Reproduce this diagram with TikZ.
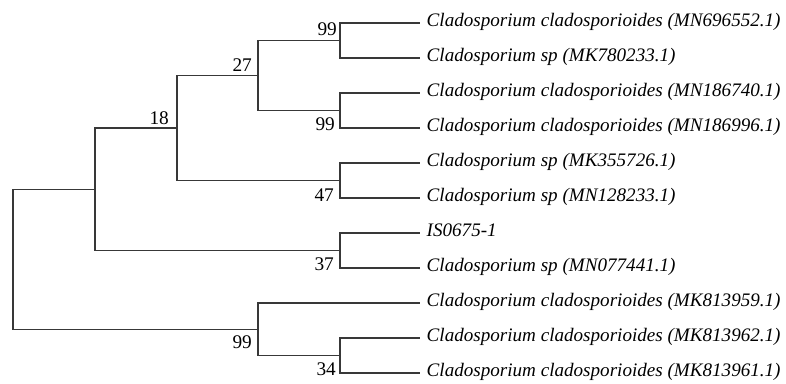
\documentclass[tikz,border=0pt]{standalone}
\usepackage{fontspec}
\setmainfont{Liberation Serif}
\begin{document}
\begin{tikzpicture}[x=1pt,y=-1pt,
  branch/.style={draw=black!78,line width=1.1pt},
  leaf/.style={anchor=west,inner xsep=6.5pt,inner ysep=0pt,font=\fontsize{19.1}{21}\selectfont\itshape,
    text height=0.9em,text depth=0.2em},
  boot/.style={anchor=base east,inner sep=0pt,font=\fontsize{19.3}{21}\selectfont}]
\useasboundingbox (0,0) rectangle (786,383);

% taxa
\node[leaf] (l1)  at (420,23)  {Cladosporium cladosporioides (MN696552.1)};
\node[leaf] (l2)  at (420,58)  {Cladosporium sp (MK780233.1)};
\node[leaf] (l3)  at (420,93)  {Cladosporium cladosporioides (MN186740.1)};
\node[leaf] (l4)  at (420,128) {Cladosporium cladosporioides (MN186996.1)};
\node[leaf] (l5)  at (420,163) {Cladosporium sp (MK355726.1)};
\node[leaf] (l6)  at (420,198) {Cladosporium sp (MN128233.1)};
\node[leaf] (l7)  at (420,233) {IS0675-1};
\node[leaf] (l8)  at (420,268) {Cladosporium sp (MN077441.1)};
\node[leaf] (l9)  at (420,303) {Cladosporium cladosporioides (MK813959.1)};
\node[leaf] (l10) at (420,338) {Cladosporium cladosporioides (MK813962.1)};
\node[leaf] (l11) at (420,373) {Cladosporium cladosporioides (MK813961.1)};

% internal nodes
\coordinate (nD) at (340,40.5);
\coordinate (nE) at (340,110.5);
\coordinate (nF) at (340,180.5);
\coordinate (nG) at (340,250.5);
\coordinate (nI) at (340,355.5);
\coordinate (nC) at (258,75.5);
\coordinate (nH) at (258,329.25);
\coordinate (nB) at (177,128);
\coordinate (nA) at (95,189.25);
\coordinate (root) at (13,259.25);

% branches
\draw[branch] (nD) |- (l1.west) (nD) |- (l2.west);
\draw[branch] (nE) |- (l3.west) (nE) |- (l4.west);
\draw[branch] (nF) |- (l5.west) (nF) |- (l6.west);
\draw[branch] (nG) |- (l7.west) (nG) |- (l8.west);
\draw[branch] (nI) |- (l10.west) (nI) |- (l11.west);
\draw[branch] (nH) |- (l9.west) (nH) |- (nI);
\draw[branch] (nC) |- (nD) (nC) |- (nE);
\draw[branch] (nB) |- (nC) (nB) |- (nF);
\draw[branch] (nA) |- (nB) (nA) |- (nG);
\draw[branch] (root) |- (nA) (root) |- (nH);

% bootstrap values
\node[boot] (bD) at (337,35)    {99};
\node[boot] (bC) at (252,71.7)  {27};
\node[boot] (bB) at (169,124.3) {18};
\node[boot] (bE) at (335,130.7) {99};
\node[boot] (bF) at (334,201.3) {47};
\node[boot] (bG) at (334,270)   {37};
\node[boot] (bH) at (252,348.3) {99};
\node[boot] (bI) at (336,375)   {34};
\end{tikzpicture}
\end{document}
